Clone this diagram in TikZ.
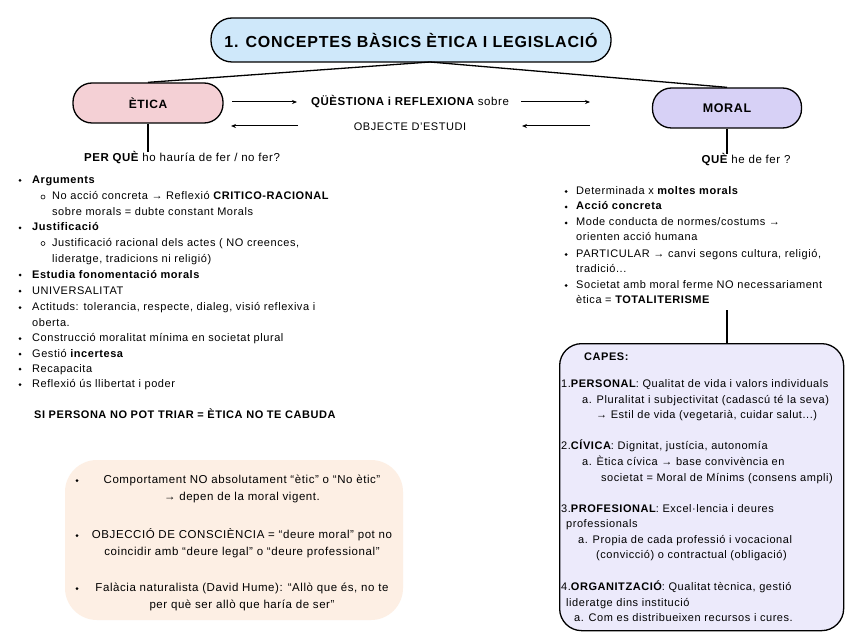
\documentclass[tikz,border=0pt]{standalone}
\usepackage{fontspec}
\setmainfont{Liberation Sans}[LetterSpace=5]
\usetikzlibrary{arrows.meta}
\definecolor{titlefill}{HTML}{CFE8FA}
\definecolor{eticafill}{HTML}{F4D0D5}
\definecolor{moralfill}{HTML}{D7D1F6}
\definecolor{capesfill}{HTML}{ECEAFB}
\definecolor{notefill}{HTML}{FDEFE4}
\tikzset{
 txt/.style={anchor=base west, inner sep=0pt, font=\fontsize{11}{13}\selectfont},
 ctxt/.style={anchor=base, inner sep=0pt, font=\fontsize{11.5}{14}\selectfont},
 dot/.style={circle, fill=black, inner sep=0pt, minimum size=3pt},
 odot/.style={circle, draw=black, line width=0.6pt, inner sep=0pt, minimum size=4pt},
 pill/.style={draw, line width=1.3pt, rounded corners=19pt},
 arr/.style={line width=1pt, -{Stealth[length=5pt,width=4pt]}},
 conn/.style={line width=1.3pt},
}
\newcommand\Tl[4]{\node[txt] (#1) at (#2,#3+3.5) {#4};}
\newcommand\Tc[4]{\node[ctxt] (#1) at (#2,#3+3.5) {#4};}
\newcommand\Tb[3]{\node[dot] (#1) at (#2,#3+0.5) {};}
\newcommand\To[3]{\node[odot] (#1) at (#2,#3+0.5) {};}
\begin{document}
\begin{tikzpicture}[x=1pt,y=-1pt]
\useasboundingbox (0,0) rectangle (848,636);
\fill[white] (0,0) rectangle (848,636);

% title and main nodes
\node[pill, fill=titlefill, minimum width=400pt, minimum height=44pt, rounded corners=21pt,
      font=\fontsize{16}{19}\selectfont\bfseries] (title) at (411,40) {1. CONCEPTES BÀSICS ÈTICA I LEGISLACIÓ};
\node[pill, fill=eticafill, minimum width=150pt, minimum height=40pt,
      font=\fontsize{12}{14}\selectfont\bfseries] (etica) at (148,103) {ÈTICA};
\node[pill, fill=moralfill, minimum width=149pt, minimum height=40pt,
      font=\fontsize{12.5}{14}\selectfont\bfseries] (moral) at (727,108) {MORAL};
\coordinate (tj) at (430,62);
\draw[conn] (tj) -- (etica.north);
\draw[conn] (tj) -- (moral.north);

% arrows and middle texts
\node[inner sep=0pt, font=\fontsize{11.5}{13}\selectfont] (q) at (410,102) {{\bfseries QÜÈSTIONA i REFLEXIONA} sobre};
\node[inner sep=0pt, font=\fontsize{11}{13}\selectfont] (obj) at (410,127) {OBJECTE D’ESTUDI};
\coordinate (a1s) at (232,102); \coordinate (a1e) at (297,102);
\coordinate (a2s) at (521,102); \coordinate (a2e) at (590,102);
\coordinate (a3s) at (298,126); \coordinate (a3e) at (231,126);
\coordinate (a4s) at (590,126); \coordinate (a4e) at (522,126);
\draw[arr] (a1s) -- (a1e);
\draw[arr] (a2s) -- (a2e);
\draw[arr] (a3s) -- (a3e);
\draw[arr] (a4s) -- (a4e);

% questions
\node[inner sep=0pt, font=\fontsize{11.5}{13}\selectfont] (perque) at (182,158) {{\bfseries PER QUÈ} ho hauría de fer / no fer?};
\node[inner sep=0pt, font=\fontsize{11.5}{13}\selectfont] (que) at (746,160) {{\bfseries QUÈ} he de fer ?};
\draw[conn] (etica.south) -- (etica.south |- perque.north);
\draw[conn] (moral.south) -- (moral.south |- que.north);

% left list
\Tb{lb1}{20}{180}   \Tl{l1}{32}{180}{\bfseries Arguments}
\To{lo1}{43}{196.5} \Tl{l2}{52}{196.5}{No acció concreta → Reflexió {\bfseries CRITICO-RACIONAL}}
                    \Tl{l3}{52}{212}{sobre morals = dubte constant Morals}
\Tb{lb2}{20}{227.5} \Tl{l4}{32}{227.5}{\bfseries Justificació}
\To{lo2}{43}{243}   \Tl{l5}{52}{243}{Justificació racional dels actes ( NO creences,}
                    \Tl{l6}{52}{258.5}{lideratge, tradicions ni religió)}
\Tb{lb3}{20}{274.5} \Tl{l7}{32}{274.5}{\bfseries Estudia fonomentació morals}
\Tb{lb4}{20}{290.5} \Tl{l8}{32}{290.5}{UNIVERSALITAT}
\Tb{lb5}{20}{307}   \Tl{l9}{32}{307}{Actituds: tolerancia, respecte, dialeg, visió reflexiva i}
                    \Tl{l10}{32}{322.5}{oberta.}
\Tb{lb6}{20}{338}   \Tl{l11}{32}{338}{Construcció moralitat mínima en societat plural}
\Tb{lb7}{20}{353.5} \Tl{l12}{32}{353.5}{Gestió {\bfseries incertesa}}
\Tb{lb8}{20}{368.5} \Tl{l13}{32}{368.5}{Recapacita}
\Tb{lb9}{20}{384}   \Tl{l14}{32}{384}{Reflexió ús llibertat i poder}
\Tl{si}{34}{415}{\bfseries SI PERSONA NO POT TRIAR = ÈTICA NO TE CABUDA}

% right list
\Tb{rb1}{566}{191}   \Tl{r1}{576}{191}{Determinada x {\bfseries moltes morals}}
\Tb{rb2}{566}{206.5} \Tl{r2}{576}{206.5}{\bfseries Acció concreta}
\Tb{rb3}{566}{222.5} \Tl{r3}{576}{222.5}{Mode conducta de normes/costums →}
                     \Tl{r4}{576}{237.5}{orienten acció humana}
\Tb{rb4}{566}{254}   \Tl{r5}{576}{254}{PARTICULAR → canvi segons cultura, religió,}
                     \Tl{r6}{576}{269}{tradició...}
\Tb{rb5}{566}{285}   \Tl{r7}{576}{285}{Societat amb moral ferme NO necessariament}
                     \Tl{r8}{576}{300}{ètica = {\bfseries TOTALITERISME}}

% CAPES box
\node[draw, line width=1.3pt, fill=capesfill, rounded corners=22pt, anchor=north west,
      minimum width=284pt, minimum height=287pt] (capes) at (559,343) {};
\coordinate (rq) at (727,310);
\draw[conn] (rq) -- (rq |- capes.north);
\Tl{c0}{584}{357}{\bfseries CAPES:}
\Tl{c1}{561}{384}{1.{\bfseries PERSONAL}: Qualitat de vida i valors individuals}
\Tl{c2}{582}{399.5}{a. Pluralitat i subjectivitat (cadascú té la seva)}
\Tl{c3}{596}{415}{→ Estil de vida (vegetarià, cuidar salut...)}
\Tl{c4}{561}{446}{2.{\bfseries CÍVICA}: Dignitat, justícia, autonomía}
\Tl{c5}{582}{462}{a. Ètica cívica → base convivència en}
\Tl{c6}{601}{477.5}{societat = Moral de Mínims (consens ampli)}
\Tl{c7}{561}{509}{3.{\bfseries PROFESIONAL}: Excel·lencia i deures}
\Tl{c8}{566}{524}{professionals}
\Tl{c9}{578}{540}{a. Propia de cada professió i vocacional}
\Tl{c10}{596}{555}{(convicció) o contractual (obligació)}
\Tl{c11}{561}{587}{4.{\bfseries ORGANITZACIÓ}: Qualitat tècnica, gestió}
\Tl{c12}{566}{602.5}{lideratge dins institució}
\Tl{c13}{574}{618}{a. Com es distribueixen recursos i cures.}

% note box
\node[fill=notefill, rounded corners=32pt, minimum width=338pt, minimum height=160pt] (note) at (234,540) {};
\Tb{nb1}{77}{480} \Tc{n1}{242}{480}{Comportament NO absolutament “ètic” o “No ètic”}
                  \Tc{n2}{242}{497}{→ depen de la moral vigent.}
\Tb{nb2}{77}{535} \Tc{n3}{242}{535}{OBJECCIÓ DE CONSCIÈNCIA = “deure moral” pot no}
                  \Tc{n4}{242}{552}{coincidir amb “deure legal” o “deure professional”}
\Tb{nb3}{77}{588} \Tc{n5}{242}{588}{Falàcia naturalista (David Hume): “Allò que és, no te}
                  \Tc{n6}{242}{605}{per què ser allò que haría de ser”}
\end{tikzpicture}
\end{document}
